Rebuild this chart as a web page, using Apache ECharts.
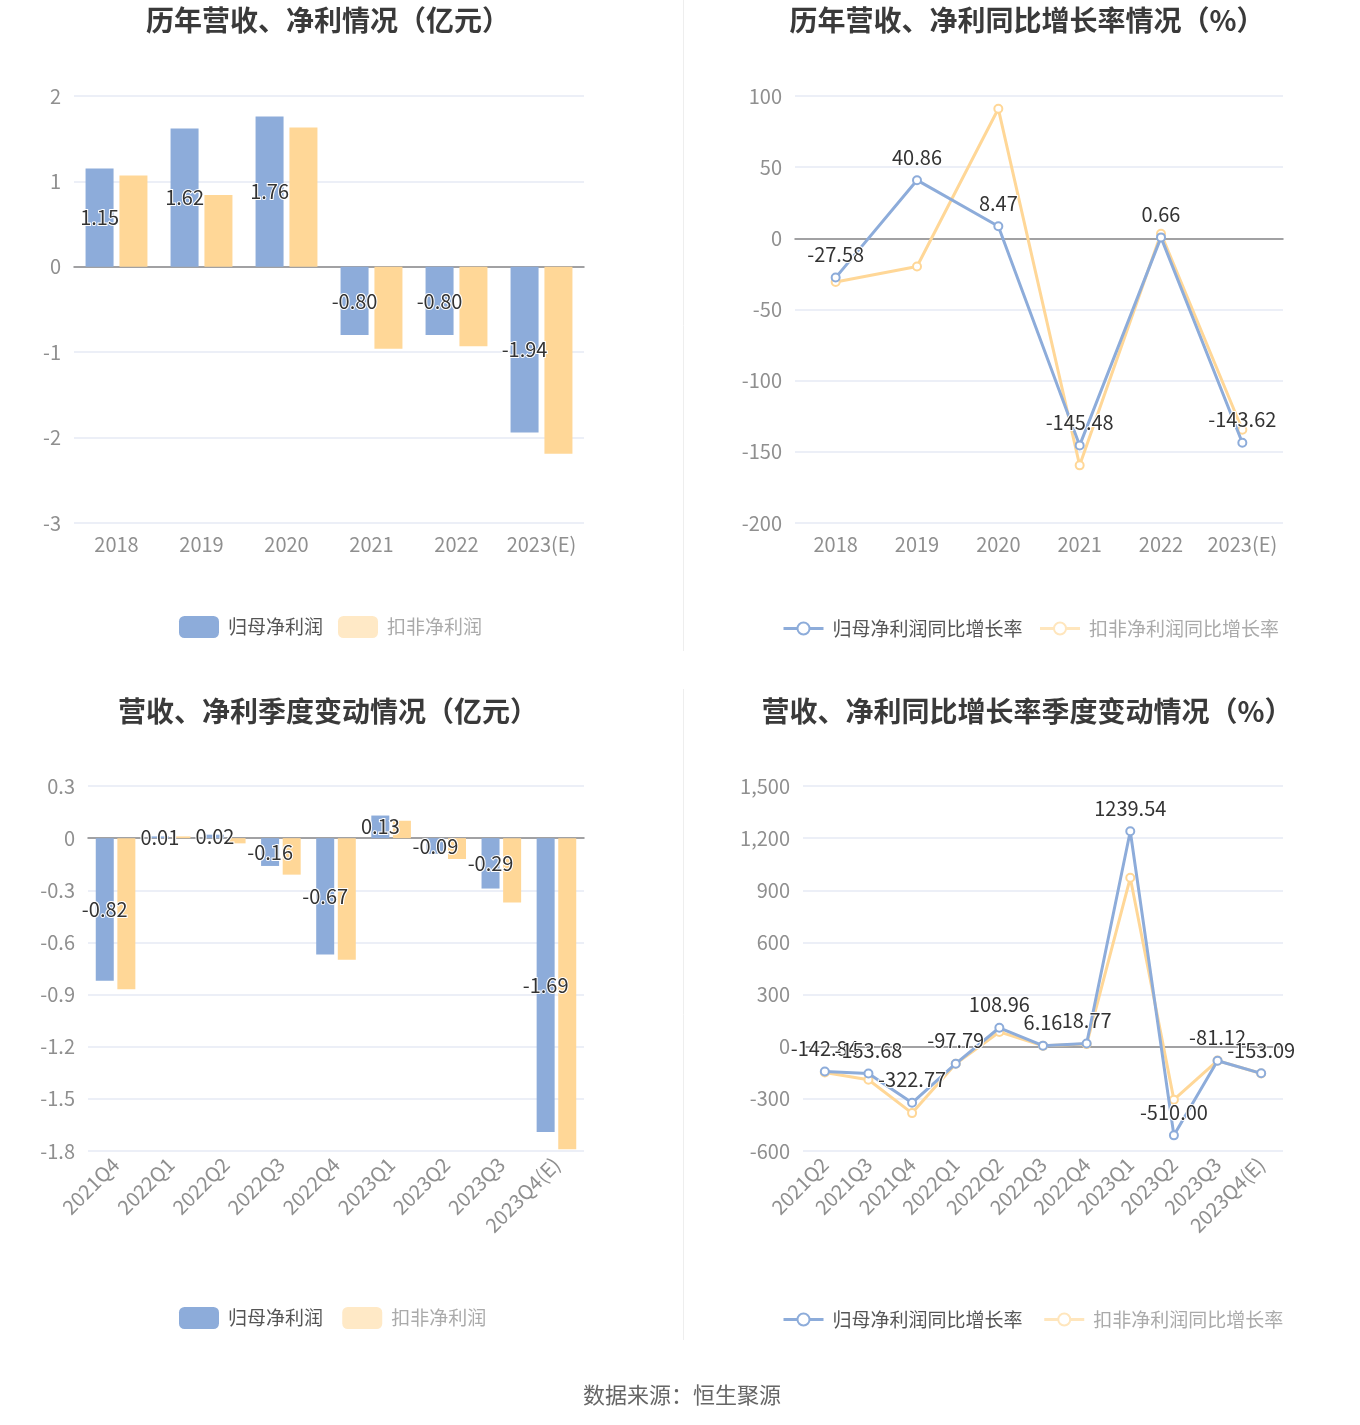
<!DOCTYPE html>
<html>
<head>
<meta charset="utf-8">
<script src="https://cdn.jsdelivr.net/npm/echarts@6/dist/echarts.min.js"></script>
<style>
html,body{margin:0;padding:0;background:#fff;}
#main{width:1360px;height:1425px;}
</style>
</head>
<body>
<div id="main"></div>
<script>
// ---- data ----
var yearCats = ['2018', '2019', '2020', '2021', '2022', '2023(E)'];
var yearNetProfit = [1.15, 1.62, 1.76, -0.80, -0.80, -1.94];
var yearDeductProfit = [1.07, 0.84, 1.63, -0.96, -0.93, -2.19];
var yearNetGrowth = [-27.58, 40.86, 8.47, -145.48, 0.66, -143.62];
var yearDeductGrowth = [-30.7, -19.8, 91.0, -159.5, 3.2, -134.5];

var qCats = ['2021Q4', '2022Q1', '2022Q2', '2022Q3', '2022Q4', '2023Q1', '2023Q2', '2023Q3', '2023Q4(E)'];
var qNetProfit = [-0.82, 0.01, 0.02, -0.16, -0.67, 0.13, -0.09, -0.29, -1.69];
var qDeductProfit = [-0.87, 0.01, -0.03, -0.21, -0.70, 0.10, -0.12, -0.37, -1.79];

var qgCats = ['2021Q2', '2021Q3', '2021Q4', '2022Q1', '2022Q2', '2022Q3', '2022Q4', '2023Q1', '2023Q2', '2023Q3', '2023Q4(E)'];
var qgNetGrowth = [-142.84, -153.68, -322.77, -97.79, 108.96, 6.16, 18.77, 1239.54, -510.00, -81.12, -153.09];
var qgDeductGrowth = [-148, -190, -382, -98, 85, 5, 15, 972, -305, -80, -154];

var titles = ['历年营收、净利情况（亿元）', '历年营收、净利同比增长率情况（%）', '营收、净利季度变动情况（亿元）', '营收、净利同比增长率季度变动情况（%）'];
var barNames = ['归母净利润', '扣非净利润'];
var lineNames = ['归母净利润同比增长率', '扣非净利润同比增长率'];
var sourceText = '数据来源：恒生聚源';

// ---- styles ----
var BLUE = '#8DACDA';
var ORANGE = '#FFD797';
var PALE = '#FFE6BD';
var FONT = '"Noto Sans CJK SC", "Noto Sans", sans-serif';

var chart = echarts.init(document.getElementById('main'), null, {renderer: 'canvas'});

function fmt2(p) { return Number(p.value).toFixed(2); }

var valLabel = {
  show: true, color: '#333', fontSize: 20, fontFamily: FONT,
  textBorderColor: '#fff', textBorderWidth: 2, formatter: fmt2
};

function catAxis(idx, data, rotate) {
  return {
    type: 'category', gridIndex: idx, data: data,
    axisLine: {onZero: true, lineStyle: {color: '#888', width: 1.5}},
    axisTick: {alignWithLabel: true, length: 6, lineStyle: {color: '#888'}},
    axisLabel: {color: '#8f8f8f', fontSize: 20, fontFamily: FONT, interval: 0, rotate: rotate || 0, margin: rotate ? 10 : 11},
    splitLine: {show: false}
  };
}
function valAxis(idx, min, max, interval) {
  return {
    type: 'value', gridIndex: idx, min: min, max: max, interval: interval,
    axisLine: {show: false}, axisTick: {show: false},
    axisLabel: {color: '#8f8f8f', fontSize: 20, fontFamily: FONT, margin: 13},
    splitLine: {lineStyle: {color: '#E6EAF5', width: 1.5}}
  };
}
function barLegend(top, suffix) {
  return {
    left: 174, top: top, itemWidth: 40, itemHeight: 22, itemGap: 15,
    data: [
      {name: barNames[0] + suffix, icon: 'roundRect', itemStyle: {color: BLUE}, textStyle: {color: '#555'}},
      {name: barNames[1] + suffix, icon: 'roundRect', itemStyle: {color: '#FFE9C6'}, textStyle: {color: '#aaa'}}
    ],
    textStyle: {fontSize: 19, fontFamily: FONT, padding: [0, 0, 0, 4]}
  };
}
function lineLegend(top, suffix) {
  return {
    left: 777, top: top, itemWidth: 40, itemHeight: 15, itemGap: 16,
    data: [
      {name: lineNames[0] + suffix, itemStyle: {color: BLUE, borderWidth: 2.5}, lineStyle: {color: BLUE, width: 3}, textStyle: {color: '#555'}},
      {name: lineNames[1] + suffix, itemStyle: {color: PALE, borderWidth: 2.5}, lineStyle: {color: PALE, width: 3}, textStyle: {color: '#aaa'}}
    ],
    textStyle: {fontSize: 19, fontFamily: FONT, padding: [0, 0, 0, 4]}
  };
}

var option = {
  backgroundColor: '#fff',
  animation: false,
  textStyle: {fontFamily: FONT},
  title: [
    {text: titles[0], left: 323, top: 1, textAlign: 'center'},
    {text: titles[1], left: 1022, top: 1, textAlign: 'center'},
    {text: titles[2], left: 323, top: 692, textAlign: 'center'},
    {text: titles[3], left: 1022, top: 692, textAlign: 'center'},
    {text: sourceText, left: 677, top: 1379, textAlign: 'center',
     textStyle: {fontSize: 22, fontWeight: 'normal', color: '#666', fontFamily: FONT}}
  ].map(function (t, i) {
    if (i < 4) t.textStyle = {fontSize: 28, fontWeight: 'bold', color: '#3a3a3a', fontFamily: FONT};
    return t;
  }),
  legend: [
    barLegend(611, ''), lineLegend(614, ''),
    barLegend(1302, ' '), lineLegend(1305, ' ')
  ],
  grid: [
    {left: 74, top: 96, width: 510, height: 427},
    {left: 795, top: 96, width: 488, height: 427},
    {left: 88, top: 786, width: 496, height: 365},
    {left: 803, top: 786, width: 480, height: 365}
  ],
  xAxis: [
    catAxis(0, yearCats), catAxis(1, yearCats),
    catAxis(2, qCats, 45), catAxis(3, qgCats, 45)
  ],
  yAxis: [
    valAxis(0, -3, 2, 1), valAxis(1, -200, 100, 50),
    valAxis(2, -1.8, 0.3, 0.3), valAxis(3, -600, 1500, 300)
  ],
  graphic: [
    {type: 'line', shape: {x1: 683.5, y1: 0, x2: 683.5, y2: 651}, style: {stroke: '#eee', lineWidth: 1}},
    {type: 'line', shape: {x1: 683.5, y1: 689, x2: 683.5, y2: 1340}, style: {stroke: '#eee', lineWidth: 1}}
  ],
  series: [
    {name: barNames[0], type: 'bar', xAxisIndex: 0, yAxisIndex: 0, data: yearNetProfit,
     barWidth: 28, barGap: '21%', itemStyle: {color: BLUE},
     label: Object.assign({position: 'inside'}, valLabel)},
    {name: barNames[1], type: 'bar', xAxisIndex: 0, yAxisIndex: 0, data: yearDeductProfit,
     barWidth: 28, barGap: '21%', itemStyle: {color: ORANGE}},
    {name: lineNames[0], type: 'line', xAxisIndex: 1, yAxisIndex: 1, data: yearNetGrowth,
     symbol: 'emptyCircle', symbolSize: 8, lineStyle: {color: BLUE, width: 3},
     itemStyle: {color: BLUE, borderWidth: 2},
     label: Object.assign({position: 'top', distance: 8}, valLabel), z: 3},
    {name: lineNames[1], type: 'line', xAxisIndex: 1, yAxisIndex: 1, data: yearDeductGrowth,
     symbol: 'emptyCircle', symbolSize: 8, lineStyle: {color: ORANGE, width: 3},
     itemStyle: {color: ORANGE, borderWidth: 2}, z: 2},
    {name: barNames[0] + ' ', type: 'bar', xAxisIndex: 2, yAxisIndex: 2, data: qNetProfit,
     barWidth: 18, barGap: '20%', itemStyle: {color: BLUE},
     label: Object.assign({position: 'inside'}, valLabel)},
    {name: barNames[1] + ' ', type: 'bar', xAxisIndex: 2, yAxisIndex: 2, data: qDeductProfit,
     barWidth: 18, barGap: '20%', itemStyle: {color: ORANGE}},
    {name: lineNames[0] + ' ', type: 'line', xAxisIndex: 3, yAxisIndex: 3, data: qgNetGrowth,
     symbol: 'emptyCircle', symbolSize: 8, lineStyle: {color: BLUE, width: 3},
     itemStyle: {color: BLUE, borderWidth: 2},
     label: Object.assign({position: 'top', distance: 8}, valLabel), z: 3},
    {name: lineNames[1] + ' ', type: 'line', xAxisIndex: 3, yAxisIndex: 3, data: qgDeductGrowth,
     symbol: 'emptyCircle', symbolSize: 8, lineStyle: {color: ORANGE, width: 3},
     itemStyle: {color: ORANGE, borderWidth: 2}, z: 2}
  ]
};
chart.setOption(option);
</script>
</body>
</html>
